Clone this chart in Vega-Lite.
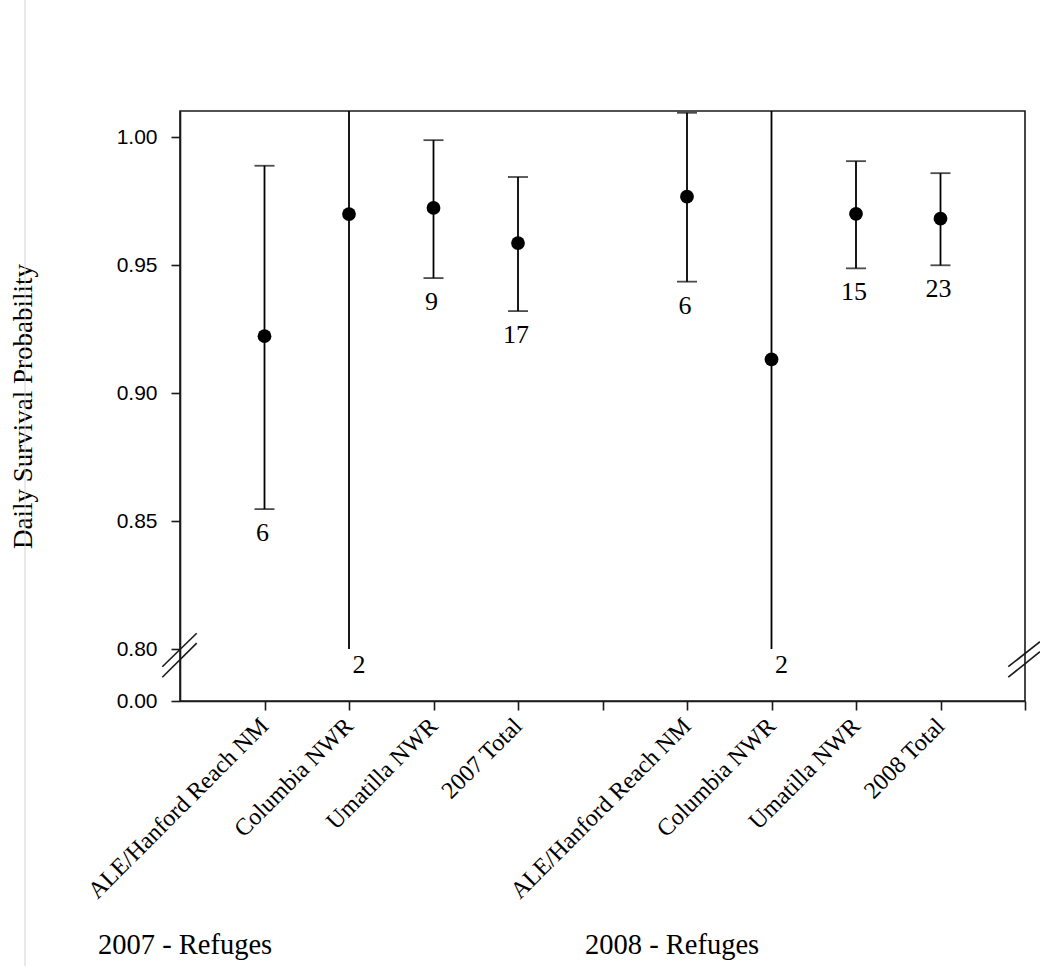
{
  "$schema": "https://vega.github.io/schema/vega-lite/v6.json",
  "width": 845,
  "height": 590,
  "autosize": {"type": "none"},
  "padding": {"left": 180, "top": 111, "right": 15, "bottom": 265},
  "background": "white",
  "config": {
    "view": {"stroke": "#1a1a1a", "strokeWidth": 1.6},
    "text": {"font": "Liberation Serif", "color": "black"},
    "axis": {"grid": false}
  },
  "datasets": {
    "points": [
      {"pos": 1, "year": 2007, "refuge": "ALE/Hanford Reach NM", "dsp": 0.9223, "lower": 0.8547, "upper": 0.9889, "n": 6, "truncated": false},
      {"pos": 2, "year": 2007, "refuge": "Columbia NWR", "dsp": 0.9700, "lower": 0.8000, "upper": 1.0103, "n": 2, "truncated": true},
      {"pos": 3, "year": 2007, "refuge": "Umatilla NWR", "dsp": 0.9724, "lower": 0.9450, "upper": 0.9989, "n": 9, "truncated": false},
      {"pos": 4, "year": 2007, "refuge": "2007 Total", "dsp": 0.9587, "lower": 0.9321, "upper": 0.9845, "n": 17, "truncated": false},
      {"pos": 6, "year": 2008, "refuge": "ALE/Hanford Reach NM", "dsp": 0.9768, "lower": 0.9436, "upper": 1.0096, "n": 6, "truncated": false},
      {"pos": 7, "year": 2008, "refuge": "Columbia NWR", "dsp": 0.9132, "lower": 0.8000, "upper": 1.0103, "n": 2, "truncated": true},
      {"pos": 8, "year": 2008, "refuge": "Umatilla NWR", "dsp": 0.9701, "lower": 0.9488, "upper": 0.9907, "n": 15, "truncated": false},
      {"pos": 9, "year": 2008, "refuge": "2008 Total", "dsp": 0.9682, "lower": 0.9500, "upper": 0.9860, "n": 23, "truncated": false}
    ]
  },
  "layer": [
    {
      "data": {"name": "points"},
      "mark": {"type": "rule", "color": "black", "strokeWidth": 1.8, "clip": true},
      "encoding": {
        "x": {
          "field": "pos", "type": "quantitative",
          "scale": {"domain": [0, 10], "nice": false, "zero": false},
          "axis": {
            "values": [1, 2, 3, 4, 5, 6, 7, 8, 9, 10],
            "labelExpr": "['', 'ALE/Hanford Reach NM', 'Columbia NWR', 'Umatilla NWR', '2007 Total', '', 'ALE/Hanford Reach NM', 'Columbia NWR', 'Umatilla NWR', '2008 Total', ''][datum.value]",
            "labelAngle": -45, "labelAlign": "right", "labelBaseline": "middle",
            "labelFont": "Liberation Serif", "labelFontSize": 24, "labelColor": "black",
            "labelPadding": 12, "labelLimit": 0, "labelOverlap": false, "labelFlush": false, "labelBound": false,
            "tickSize": 9, "tickColor": "#1a1a1a", "tickWidth": 1.6,
            "domainColor": "#1a1a1a", "domainWidth": 1.6, "grid": false, "title": null
          }
        },
        "y": {
          "field": "lower", "type": "quantitative",
          "scale": {"domain": [0.7797, 1.0103], "nice": false, "zero": false},
          "axis": {
            "values": [0.7797, 0.8, 0.85, 0.9, 0.95, 1.0],
            "labelExpr": "datum.value < 0.79 ? '0.00' : format(datum.value, '.2f')",
            "labelFont": "Liberation Sans", "labelFontSize": 21, "labelColor": "black",
            "labelPadding": 14, "labelOverlap": false, "labelFlush": false,
            "tickSize": 9, "tickColor": "#1a1a1a", "tickWidth": 1.6,
            "domainColor": "#1a1a1a", "domainWidth": 1.6, "grid": false,
            "title": "Daily Survival Probability",
            "titleFont": "Liberation Serif", "titleFontSize": 27, "titleFontWeight": "normal",
            "titleColor": "black", "titlePadding": 79
          }
        },
        "y2": {"field": "upper"}
      }
    },
    {
      "data": {"name": "points"},
      "transform": [{"filter": "!datum.truncated"}],
      "mark": {"type": "tick", "orient": "horizontal", "color": "black", "size": 20, "thickness": 1.8},
      "encoding": {
        "x": {"field": "pos", "type": "quantitative"},
        "y": {"field": "upper", "type": "quantitative"}
      }
    },
    {
      "data": {"name": "points"},
      "transform": [{"filter": "!datum.truncated"}],
      "mark": {"type": "tick", "orient": "horizontal", "color": "black", "size": 20, "thickness": 1.8},
      "encoding": {
        "x": {"field": "pos", "type": "quantitative"},
        "y": {"field": "lower", "type": "quantitative"}
      }
    },
    {
      "data": {"name": "points"},
      "mark": {"type": "circle", "color": "black", "opacity": 1, "size": 190},
      "encoding": {
        "x": {"field": "pos", "type": "quantitative"},
        "y": {"field": "dsp", "type": "quantitative"}
      }
    },
    {
      "data": {"name": "points"},
      "transform": [{"filter": "!datum.truncated"}],
      "mark": {"type": "text", "fontSize": 26, "align": "center", "baseline": "middle", "dy": 24, "dx": -2},
      "encoding": {
        "x": {"field": "pos", "type": "quantitative"},
        "y": {"field": "lower", "type": "quantitative"},
        "text": {"field": "n"}
      }
    },
    {
      "data": {"name": "points"},
      "transform": [{"filter": "datum.truncated"}],
      "mark": {"type": "text", "fontSize": 26, "align": "center", "baseline": "middle", "dy": 16, "dx": 10},
      "encoding": {
        "x": {"field": "pos", "type": "quantitative"},
        "y": {"field": "lower", "type": "quantitative"},
        "text": {"field": "n"}
      }
    },
    {
      "data": {"values": [{"label": "2007 - Refuges"}]},
      "mark": {"type": "text", "fontSize": 28.5, "align": "left", "baseline": "middle"},
      "encoding": {
        "x": {"datum": -0.97, "type": "quantitative"},
        "y": {"datum": 0.6843, "type": "quantitative"},
        "text": {"field": "label"}
      }
    },
    {
      "data": {"values": [{"label": "2008 - Refuges"}]},
      "mark": {"type": "text", "fontSize": 28.5, "align": "left", "baseline": "middle"},
      "encoding": {
        "x": {"datum": 4.793, "type": "quantitative"},
        "y": {"datum": 0.6843, "type": "quantitative"},
        "text": {"field": "label"}
      }
    },
    {
      "data": {"values": [{"side": "left"}]},
      "mark": {"type": "rule", "color": "#1a1a1a", "strokeWidth": 1.6},
      "encoding": {
        "x": {"datum": -0.2095, "type": "quantitative"},
        "x2": {"datum": 0.1976},
        "y": {"datum": 0.7931, "type": "quantitative"},
        "y2": {"datum": 0.8062}
      }
    },
    {
      "data": {"values": [{"side": "left"}]},
      "mark": {"type": "rule", "color": "#1a1a1a", "strokeWidth": 1.6},
      "encoding": {
        "x": {"datum": -0.2095, "type": "quantitative"},
        "x2": {"datum": 0.1976},
        "y": {"datum": 0.7890, "type": "quantitative"},
        "y2": {"datum": 0.8023}
      }
    },
    {
      "data": {"values": [{"side": "right"}]},
      "mark": {"type": "rule", "color": "#1a1a1a", "strokeWidth": 1.6},
      "encoding": {
        "x": {"datum": 9.802, "type": "quantitative"},
        "x2": {"datum": 10.178},
        "y": {"datum": 0.7931, "type": "quantitative"},
        "y2": {"datum": 0.8029}
      }
    },
    {
      "data": {"values": [{"side": "right"}]},
      "mark": {"type": "rule", "color": "#1a1a1a", "strokeWidth": 1.6},
      "encoding": {
        "x": {"datum": 9.802, "type": "quantitative"},
        "x2": {"datum": 10.178},
        "y": {"datum": 0.7890, "type": "quantitative"},
        "y2": {"datum": 0.7990}
      }
    },
    {
      "data": {"values": [{"edge": "page"}]},
      "mark": {"type": "rule", "color": "#d4d4d4", "strokeWidth": 1},
      "encoding": {
        "x": {"datum": -1.834, "type": "quantitative"},
        "y": {"datum": 0.6761, "type": "quantitative"},
        "y2": {"datum": 1.0537}
      }
    }
  ]
}
